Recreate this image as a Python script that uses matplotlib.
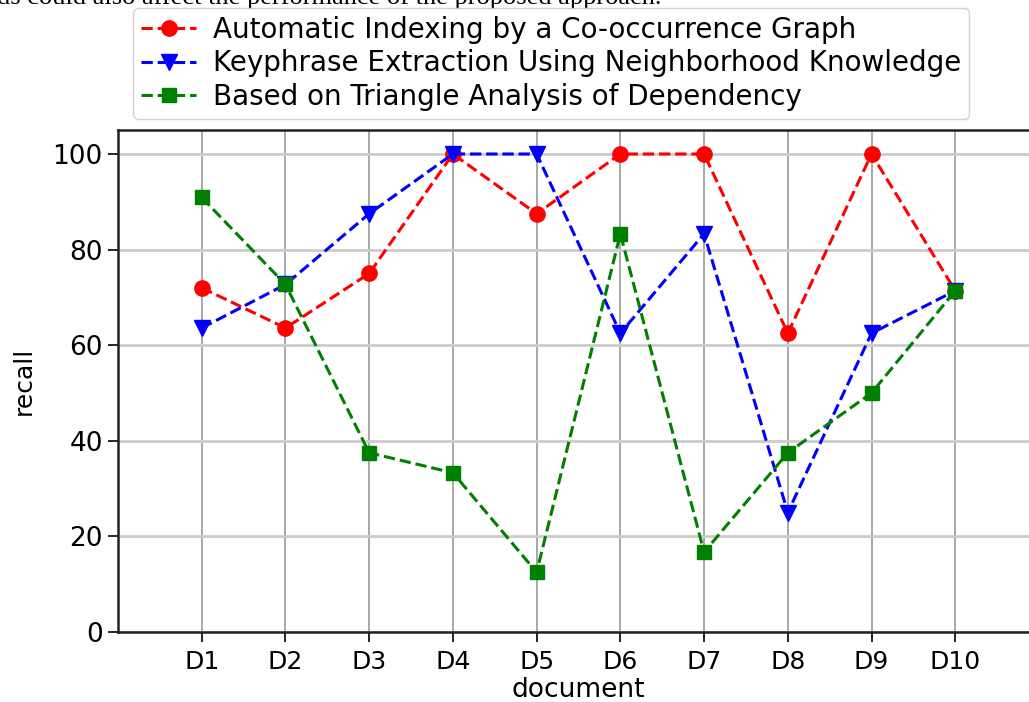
import matplotlib
matplotlib.use("Agg")
import matplotlib.pyplot as plt

# recall per document for the three methods
documents = ['D1', 'D2', 'D3', 'D4', 'D5', 'D6', 'D7', 'D8', 'D9', 'D10']
cooccurrence = [72.0, 63.6, 75.0, 100.0, 87.5, 100.0, 100.0, 62.5, 100.0, 71.4]
neighborhood = [63.6, 72.7, 87.5, 100.0, 100.0, 62.5, 83.3, 25.0, 62.5, 71.4]
triangle = [90.9, 72.7, 37.5, 33.3, 12.5, 83.3, 16.7, 37.5, 50.0, 71.4]

labels = ['Automatic Indexing by a Co-occurrence Graph',
          'Keyphrase Extraction Using Neighborhood Knowledge',
          'Based on Triangle Analysis of Dependency']

fig = plt.figure(figsize=(10.29, 7.02), dpi=100)
ax = fig.add_axes([0.1147, 0.0997, 0.895, 0.715])

x = list(range(1, len(documents) + 1))
ax.plot(x, cooccurrence, 'r--o', lw=2.2, markersize=11, label=labels[0])
ax.plot(x, neighborhood, 'b--v', lw=2.2, markersize=12, label=labels[1])
ax.plot(x, triangle, 'g--s', lw=2.2, markersize=10.5, label=labels[2])

ax.set_xlim(0, 11)
ax.set_ylim(0, 105)
ax.set_xticks(x)
ax.set_xticklabels(documents, fontsize=18)
ax.set_yticks([0, 20, 40, 60, 80, 100])
ax.tick_params(axis='y', labelsize=19, length=7, width=1.2, pad=4)
ax.tick_params(axis='x', length=7, width=1.2, pad=6)
ax.xaxis.grid(True, color='#999999', lw=1.2)
ax.yaxis.grid(True, color='#cccccc', lw=2)
ax.set_axisbelow(True)
for s in ax.spines.values():
    s.set_linewidth(1.8)
    s.set_color('#222222')

ax.set_xlabel('document', fontsize=19, labelpad=2)
ax.set_ylabel('recall', fontsize=18, labelpad=12)

fig.legend(loc='upper left', bbox_to_anchor=(0.1293, 0.9886), borderaxespad=0,
           fontsize=20, frameon=True, framealpha=0.9, edgecolor='#cccccc',
           borderpad=0.28, labelspacing=0.2, handlelength=2.0,
           handletextpad=0.6)

# cut-off line of the surrounding page text
fig.text(-0.003, 0.9943, 'ds could also affect the performance of the proposed approach.',
         family='Liberation Serif', fontsize=19, va='baseline', ha='left')

fig.savefig('out.png', dpi=100)
